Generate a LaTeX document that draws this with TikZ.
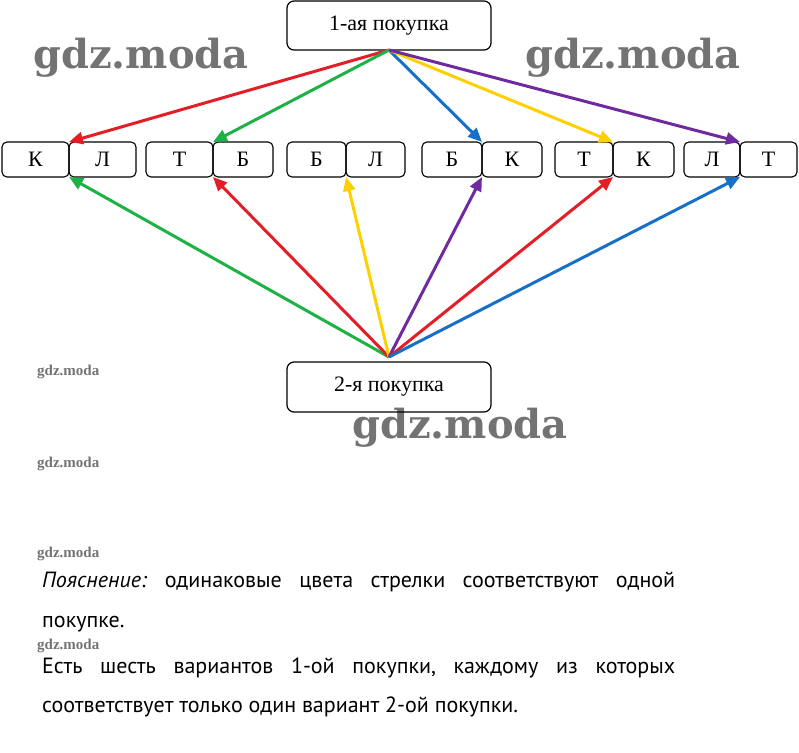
\documentclass[tikz,border=0pt]{standalone}
\usepackage{fontspec}
\setmainfont{Liberation Serif}
\newfontfamily\bodyfont{PT Sans}
\newfontfamily\wmbigfont{DejaVu Serif}
\newfontfamily\wmsmallfont{Liberation Serif}
\usetikzlibrary{arrows.meta}
\definecolor{cred}{RGB}{228,30,38}
\definecolor{cgreen}{RGB}{30,178,70}
\definecolor{cblue}{RGB}{22,112,200}
\definecolor{cyellow}{RGB}{255,208,0}
\definecolor{cpurple}{RGB}{112,42,160}
\begin{document}
\frenchspacing
\begin{tikzpicture}[x=1pt,y=-1pt,
  mainbox/.style={draw, rounded corners=7pt, line width=1.2pt, inner sep=0pt, outer sep=0pt,
    minimum width=204pt, font=\fontsize{22}{24}\selectfont},
  pbox/.style={draw, rounded corners=5pt, line width=1.1pt, minimum height=35pt, inner sep=0pt,
    outer sep=0pt, font=\fontsize{22}{24}\selectfont},
  arr/.style={line width=3pt, -{Triangle[length=14pt,width=12pt]}},
  txt/.style={anchor=base west, inner sep=0pt, font=\bodyfont\fontsize{22}{24}\selectfont},
  wmbig/.style={anchor=base west, inner sep=0pt, text=black!55, font=\wmbigfont\bfseries\fontsize{40}{44}\selectfont},
  wmsmall/.style={anchor=base west, inner sep=0pt, text=black!55, font=\wmsmallfont\bfseries\fontsize{15}{17}\selectfont}
]
\useasboundingbox (0,0) rectangle (799,752);

% watermarks
\node[wmbig] (wmA) at (33,68) {gdz.moda};
\node[wmbig] (wmB) at (525,68) {gdz.moda};
\node[wmbig] (wmC) at (352,438) {gdz.moda};
\node[wmsmall] (wmD) at (37,375) {gdz.moda};
\node[wmsmall] (wmE) at (37,467) {gdz.moda};
\node[wmsmall] (wmF) at (37,557) {gdz.moda};
\node[wmsmall] (wmG) at (37,649) {gdz.moda};

% main boxes
\node[mainbox, minimum height=49pt] (top) at (389,25.5) {1-ая покупка};
\node[mainbox, minimum height=50pt] (bot) at (389,387) {2-я покупка};

% pair boxes
\node[pbox, minimum width=67pt] (a1) at (35.5,159.5) {К};
\node[pbox, minimum width=67pt, anchor=west] (b1) at (a1.east) {Л};
\node[pbox, minimum width=67pt] (a2) at (179.5,159.5) {Т};
\node[pbox, minimum width=60pt, anchor=west] (b2) at (a2.east) {Б};
\node[pbox, minimum width=59pt] (a3) at (316.5,159.5) {Б};
\node[pbox, minimum width=59pt, anchor=west] (b3) at (a3.east) {Л};
\node[pbox, minimum width=60pt] (a4) at (452,159.5) {Б};
\node[pbox, minimum width=60pt, anchor=west] (b4) at (a4.east) {К};
\node[pbox, minimum width=58pt] (a5) at (584,159.5) {Т};
\node[pbox, minimum width=61pt, anchor=west] (b5) at (a5.east) {К};
\node[pbox, minimum width=56pt] (a6) at (712,159.5) {Л};
\node[pbox, minimum width=57pt, anchor=west] (b6) at (a6.east) {Т};

% arrows from first purchase
\draw[arr, cred] (top.south) -- (a1.north east);
\draw[arr, cgreen] (top.south) -- (a2.north east);
\draw[arr, cblue] (top.south) -- (a4.north east);
\draw[arr, cyellow] (top.south) -- (a5.north east);
\draw[arr, cpurple] (top.south) -- (a6.north east);

% arrows from second purchase
\coordinate (src) at (389,357);
\draw[arr, cgreen] (src) -- (a1.south east);
\draw[arr, cred] (src) -- (a2.south east);
\draw[arr, cyellow] (src) -- (a3.south east);
\draw[arr, cpurple] (src) -- (a4.south east);
\draw[arr, cred] (src) -- (a5.south east);
\draw[arr, cblue] (src) -- (a6.south east);

% explanation
\node[txt] (txt1) at (42,587) {\makebox[633pt][s]{\textit{Пояснение:} одинаковые цвета стрелки соответствуют одной}};
\node[txt] (txt2) at (42,627) {покупке.};
\node[txt] (txt3) at (42,673) {\makebox[633pt][s]{Есть шесть вариантов 1-ой покупки, каждому из которых}};
\node[txt] (txt4) at (42,712) {соответствует только один вариант 2-ой покупки.};
\end{tikzpicture}
\end{document}
